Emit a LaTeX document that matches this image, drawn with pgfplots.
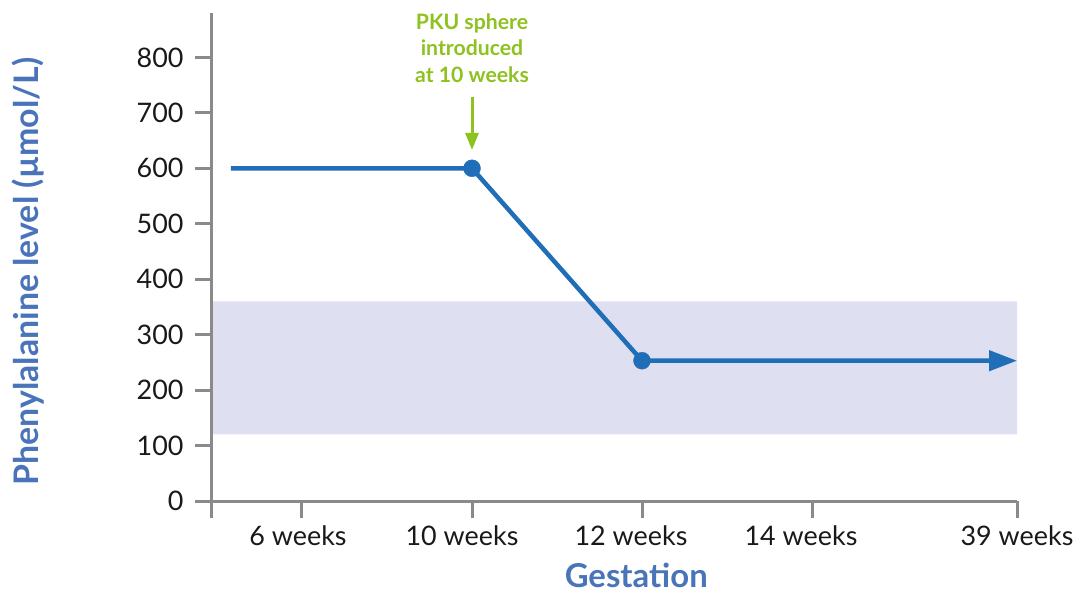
\documentclass[border=0pt]{standalone}
\usepackage{fontspec}
\setmainfont{Lato}
\usepackage{pgfplots}
\pgfplotsset{compat=1.18}
\usetikzlibrary{arrows.meta}
\definecolor{axgray}{HTML}{8A8A8A}
\definecolor{lineblue}{HTML}{1F6EB7}
\definecolor{bandcol}{HTML}{DEDFF1}
\definecolor{pkugreen}{HTML}{8DC21F}
\definecolor{labelblue}{HTML}{4A74B9}
\begin{document}
\begin{tikzpicture}
\useasboundingbox (-212bp,-92bp) rectangle (863bp,501bp);
\begin{axis}[
  at={(0,0)}, anchor=south west,
  scale only axis, width=805bp, height=488bp,
  xmin=212, xmax=1017, ymin=0, ymax=880,
  axis lines*=left,
  axis line style={axgray, line width=3bp},
  tick align=outside, major tick length=17bp,
  every tick/.style={axgray, line width=3bp},
  xtick={212,302,472,642,812,1017},
  xticklabels={,{\kern-8bp 6 weeks},{\kern-20bp 10 weeks},{\kern-22bp 12 weeks},{\kern-22bp 14 weeks},{39 weeks}},
  ytick={0,100,...,800},
  clip=false, axis on top,
  /pgf/number format/assume math mode=true,
  tick label style={font=\fontsize{27}{32}\selectfont, text=black!90},
  xticklabel style={yshift=-4bp},
  yticklabel style={xshift=-8bp},
  xlabel={Gestation},
  ylabel={Phenylalanine level (µmol/L)},
  every axis x label/.style={at={(rel axis cs:0.527,-0.153)}, anchor=center, inner sep=0pt, font=\bfseries\fontsize{33}{40}\selectfont, text=labelblue},
  every axis y label/.style={at={(rel axis cs:-0.228,0.470)}, rotate=90, anchor=center, inner sep=0pt, font=\bfseries\fontsize{34}{40}\selectfont, text=labelblue},
]
\addplot[draw=none, fill=bandcol] coordinates {(212,120) (1017,120) (1017,360) (212,360) (212,120)};
\addplot[lineblue, line width=4.5bp, line join=round, -{Triangle[length=28bp,width=20bp]}] coordinates {(231,600) (472,600) (642,253) (1017,253)};
\addplot[only marks, mark=*, mark size=8.5bp, mark options={fill=lineblue, draw=lineblue}] coordinates {(472,600) (642,253)};
\node[text=pkugreen, font=\bfseries\fontsize{21.3}{26.5}\selectfont, align=center] at (axis cs:472,817) {PKU sphere\\introduced\\at 10 weeks};
\draw[pkugreen, line width=3bp, -{Triangle[length=17bp,width=13bp]}] (axis cs:472,729) -- (axis cs:472,633);
\end{axis}
\end{tikzpicture}
\end{document}
